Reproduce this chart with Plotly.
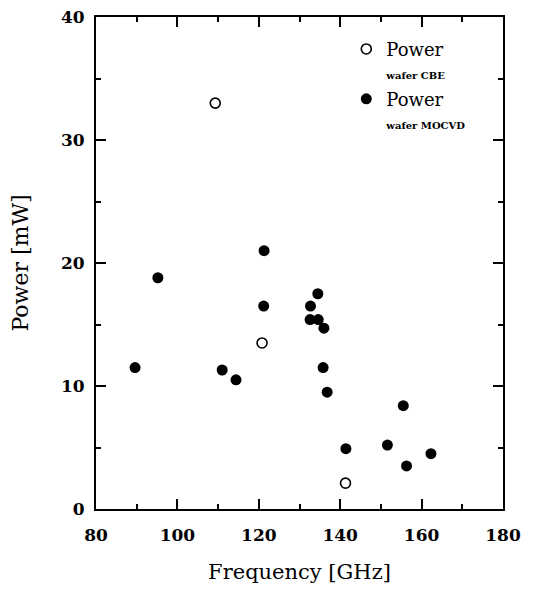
import plotly.graph_objects as go

# Data
cbe_freq = [109.3, 120.8, 141.3]
cbe_power = [33.0, 13.5, 2.1]

mocvd_freq = [89.6, 95.2, 111.0, 114.4, 121.2, 121.3, 132.7, 134.5, 132.6, 134.6,
              136.0, 135.8, 136.8, 141.4, 151.6, 155.5, 156.3, 162.3]
mocvd_power = [11.5, 18.8, 11.3, 10.5, 16.5, 21.0, 16.5, 17.5, 15.4, 15.4,
               14.7, 11.5, 9.5, 4.9, 5.2, 8.4, 3.5, 4.5]

x_ticks = [80, 100, 120, 140, 160, 180]
y_ticks = [0, 10, 20, 30, 40]

SERIF = "DejaVu Serif"

fig = go.Figure()
fig.add_trace(go.Scatter(
    x=cbe_freq, y=cbe_power, mode="markers",
    name="Power<br><span style='font-size:10px'><b>wafer CBE</b></span>",
    marker=dict(symbol="circle-open", size=10, color="black", line=dict(width=1.6, color="black")),
))
fig.add_trace(go.Scatter(
    x=mocvd_freq, y=mocvd_power, mode="markers",
    name="Power<br><span style='font-size:10px'><b>wafer MOCVD</b></span>",
    marker=dict(symbol="circle", size=11, color="black"),
))

axis_common = dict(
    showline=True, linecolor="black", linewidth=2, mirror="ticks",
    ticks="inside", ticklen=10, tickwidth=1.5, tickcolor="black",
    showgrid=False, zeroline=False, automargin=False,
    ticklabeloverflow="allow",
    tickfont=dict(family=SERIF, size=17, color="black", weight="bold"),
)

fig.update_xaxes(
    range=[80, 180], tickvals=x_ticks, ticktext=[str(v) for v in x_ticks],
    minor=dict(dtick=10, tick0=80, ticks="inside", ticklen=5, tickwidth=1.5, tickcolor="black", showgrid=False),
    title=dict(text="Frequency [GHz]", font=dict(family=SERIF, size=21, color="black"), standoff=20),
    ticklabelstandoff=10,
    **axis_common,
)
fig.update_yaxes(
    range=[0, 40], tickvals=y_ticks, ticktext=[str(v) for v in y_ticks],
    minor=dict(dtick=5, tick0=0, ticks="inside", ticklen=5, tickwidth=1.5, tickcolor="black", showgrid=False),
    title=dict(text="Power [mW]", font=dict(family=SERIF, size=22, color="black"), standoff=28),
    ticklabelstandoff=6,
    **axis_common,
)

fig.update_layout(
    width=536, height=589,
    margin=dict(l=88, r=41, t=9, b=88),
    paper_bgcolor="white", plot_bgcolor="white",
    showlegend=True,
    legend=dict(
        x=0.615, y=0.972, xanchor="left", yanchor="top",
        bgcolor="rgba(0,0,0,0)", borderwidth=0,
        font=dict(family=SERIF, size=18, color="black"),
        valign="top", tracegroupgap=0, itemwidth=30,
    ),
)

fig.write_html("out.html")
